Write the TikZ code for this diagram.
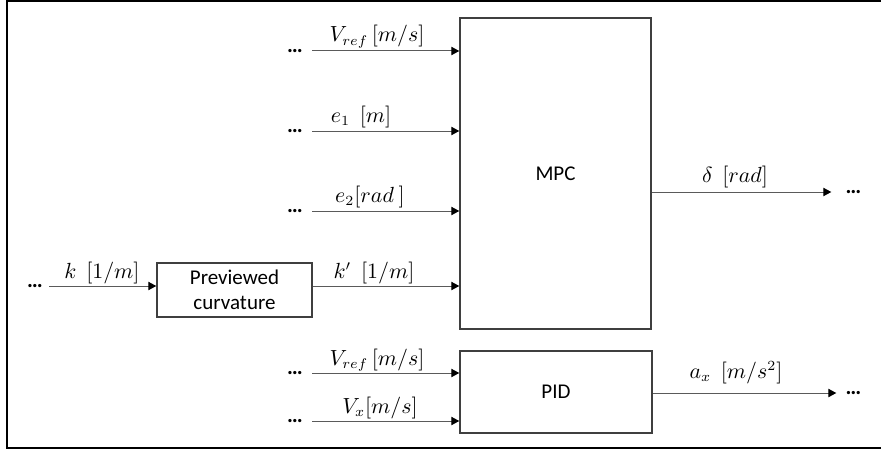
\documentclass[tikz,border=0pt]{standalone}
\usepackage{fontspec}
\setmainfont{Carlito}
\usepackage{tikz}
\usetikzlibrary{arrows.meta,positioning,calc}
\definecolor{ink}{HTML}{3F3F3F}
\definecolor{wire}{HTML}{5A5A5A}
\tikzset{
  box/.style={draw=ink,line width=0.75pt,fill=white,align=center,inner sep=0pt,
    font=\fontsize{10.5}{12.5}\selectfont},
  arr/.style={-{Triangle[length=4pt,width=4.2pt,black]},draw=wire,line width=0.5pt},
  lbl/.style={font=\fontsize{10.5}{12}\selectfont,anchor=base,inner sep=0pt},
  ellip/.style={inner sep=0pt,text height=1.4pt,text depth=0pt,
    font=\fontsize{11}{12}\selectfont\bfseries},
}
\begin{document}
\begin{tikzpicture}[x=0.5pt,y=-0.5pt]
  \useasboundingbox (0,0) rectangle (881,449);
  % frame (open on the right)
  \draw[line width=1pt,line cap=rect] (881,1) -- (7,1) -- (7,448) -- (881,448);
  % blocks
  \node[box,minimum width=95.5pt,minimum height=155.5pt] (mpc) at (555.5,173.5) {MPC};
  \node[box,minimum width=96pt,minimum height=41pt] (pid) at (556,392) {PID};
  \node[box,minimum width=77.5pt,minimum height=27pt] (prev) at (234.5,290) {Previewed\\curvature};
  % MPC inputs
  \node[ellip] (dvref) at (295,51) {…};
  \node[ellip] (de1) at (295,131) {…};
  \node[ellip] (de2) at (295,211) {…};
  \draw[arr,shorten <=4.5pt] (dvref.east) -- (dvref.east -| mpc.west);
  \draw[arr,shorten <=4.5pt] (de1.east) -- (de1.east -| mpc.west);
  \draw[arr,shorten <=4.5pt] (de2.east) -- (de2.east -| mpc.west);
  \node[lbl] (lvref) at (377,42) {$V_{ref}\,[m/s]$};
  \node[lbl] (le1) at (361,122) {$e_1\;\,[m]$};
  \node[lbl] (le2) at (370,202) {$e_2[rad\ ]$};
  % curvature preview
  \node[ellip] (dk) at (35,286) {…};
  \draw[arr,shorten <=3pt] (dk.east) -- (dk.east -| prev.west);
  \draw[arr] (dk.east -| prev.east) -- (dk.east -| mpc.west);
  \node[lbl] (lk) at (102,278) {$k\;\,[1/m]$};
  \node[lbl] (lkp) at (374,278) {$k'\;\,[1/m]$};
  % PID inputs
  \node[ellip] (dvref2) at (295,373) {…};
  \node[ellip] (dvx) at (295,421) {…};
  \draw[arr,shorten <=4.5pt] (dvref2.east) -- (dvref2.east -| pid.west);
  \draw[arr,shorten <=4.5pt] (dvx.east) -- (dvx.east -| pid.west);
  \node[lbl] (lvref2) at (377,365) {$V_{ref}\,[m/s]$};
  \node[lbl] (lvx) at (380,413) {$V_x[m/s]$};
  % outputs
  \node[ellip] (ddelta) at (853.5,192) {…};
  \node[ellip] (dax) at (853.5,393) {…};
  \draw[arr,shorten >=7pt] (ddelta.west -| mpc.east) -- (ddelta.west);
  \draw[arr,shorten >=4.5pt] (dax.west -| pid.east) -- (dax.west);
  \node[lbl] (ldelta) at (735,182) {$\delta\;\,[rad]$};
  \node[lbl] (lax) at (736,378) {$a_x\;\,[m/s^2]$};
\end{tikzpicture}
\end{document}
